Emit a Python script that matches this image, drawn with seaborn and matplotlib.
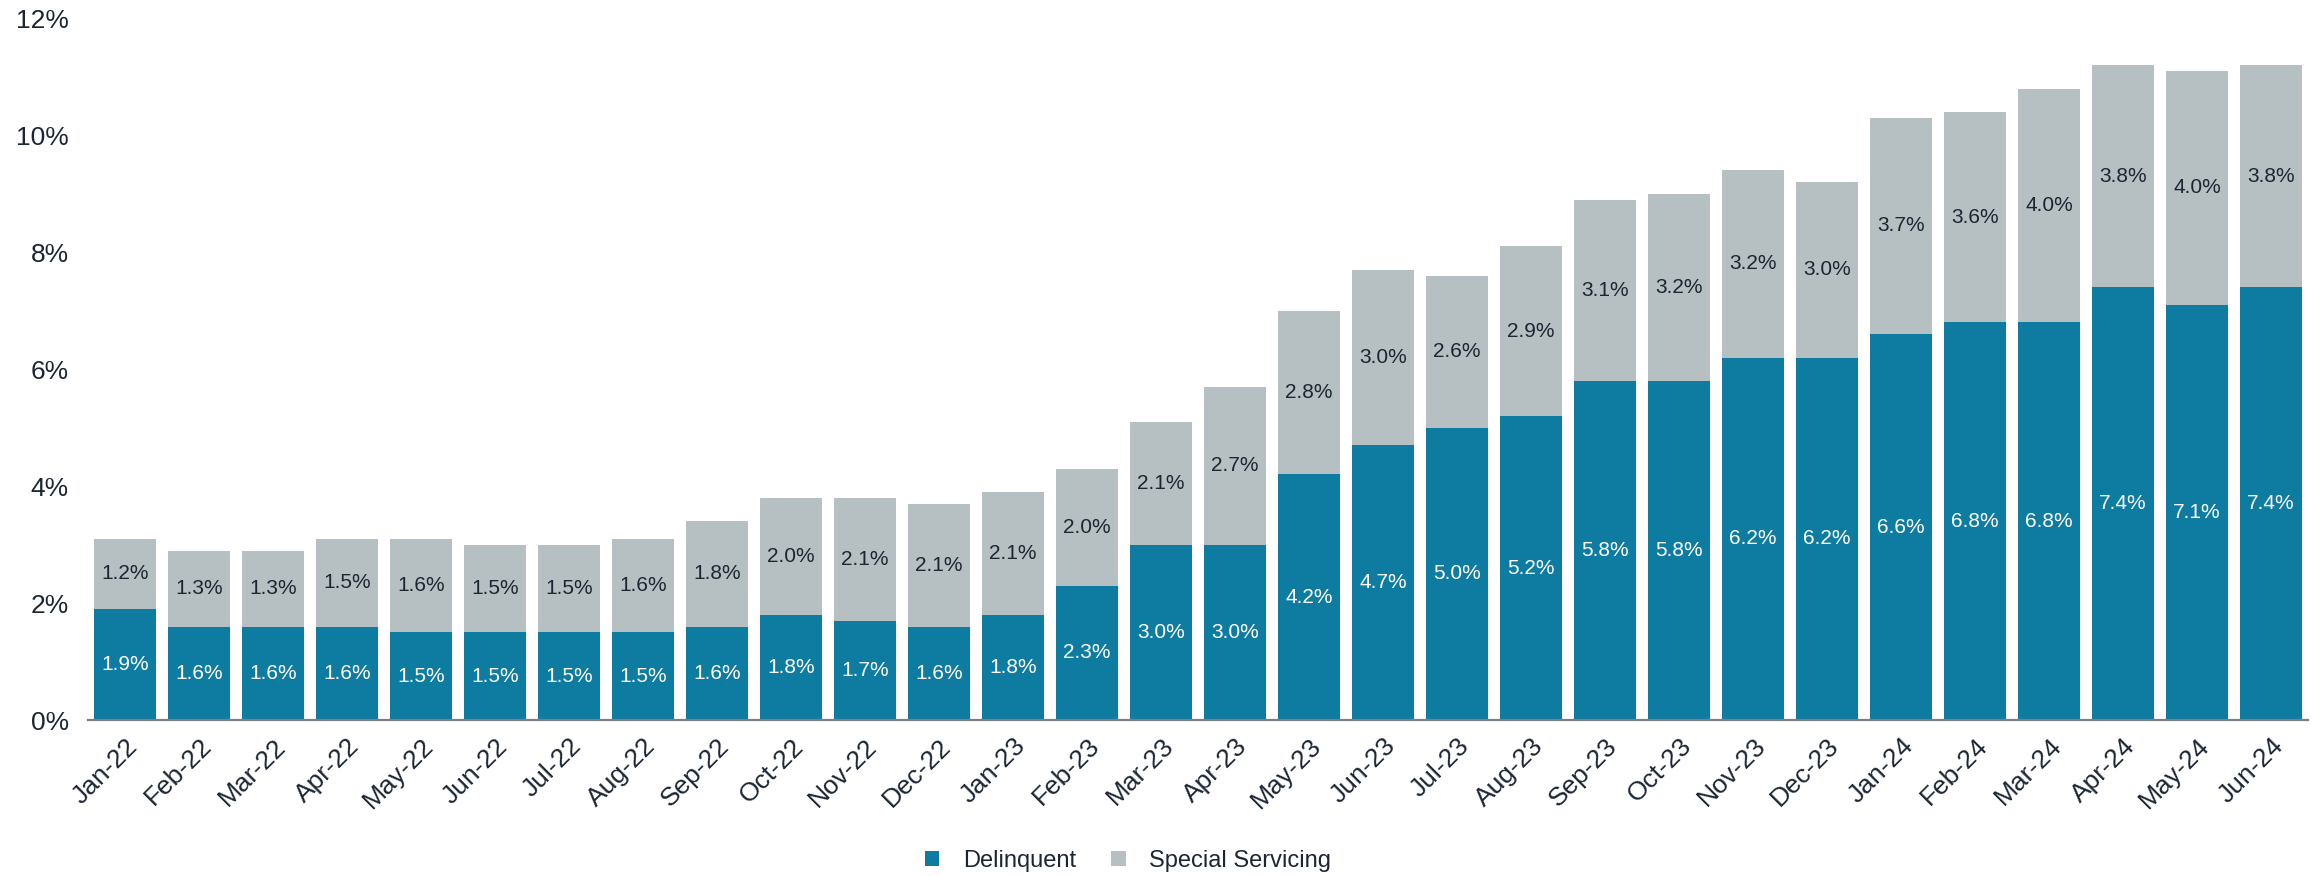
import matplotlib
matplotlib.use("Agg")
import matplotlib.pyplot as plt
from matplotlib.patches import Patch
import seaborn as sns
import pandas as pd

months = ["Jan-22", "Feb-22", "Mar-22", "Apr-22", "May-22", "Jun-22", "Jul-22", "Aug-22",
          "Sep-22", "Oct-22", "Nov-22", "Dec-22", "Jan-23", "Feb-23", "Mar-23", "Apr-23",
          "May-23", "Jun-23", "Jul-23", "Aug-23", "Sep-23", "Oct-23", "Nov-23", "Dec-23",
          "Jan-24", "Feb-24", "Mar-24", "Apr-24", "May-24", "Jun-24"]
delinquent = [1.9, 1.6, 1.6, 1.6, 1.5, 1.5, 1.5, 1.5, 1.6, 1.8, 1.7, 1.6, 1.8, 2.3, 3.0, 3.0,
              4.2, 4.7, 5.0, 5.2, 5.8, 5.8, 6.2, 6.2, 6.6, 6.8, 6.8, 7.4, 7.1, 7.4]
special_servicing = [1.2, 1.3, 1.3, 1.5, 1.6, 1.5, 1.5, 1.6, 1.8, 2.0, 2.1, 2.1, 2.1, 2.0, 2.1, 2.7,
                     2.8, 3.0, 2.6, 2.9, 3.1, 3.2, 3.2, 3.0, 3.7, 3.6, 4.0, 3.8, 4.0, 3.8]
y_ticks = [0, 2, 4, 6, 8, 10, 12]

BLUE = "#0E7BA1"
GREY = "#B6BFC2"
TEXT = "#1C2633"

df = pd.DataFrame({"month": months, "delinquent": delinquent, "special": special_servicing})
df["total"] = df["delinquent"] + df["special"]

sns.set_theme(style="white")
plt.rcParams["font.family"] = ["Liberation Sans", "DejaVu Sans"]

fig = plt.figure(figsize=(23.18, 8.76), dpi=100)
ax = fig.add_axes([0.038, 0.178, 0.9577, 0.801])

# Stacked look: full total in grey, delinquent share drawn over it in blue
sns.barplot(data=df, x="month", y="total", color=GREY, width=0.83, linewidth=0,
            saturation=1, ax=ax)
sns.barplot(data=df, x="month", y="delinquent", color=BLUE, width=0.83, linewidth=0,
            saturation=1, ax=ax)

for i, (d, s) in enumerate(zip(delinquent, special_servicing)):
    ax.text(i, d / 2, f"{d:.1f}%", ha="center", va="center", color="white", fontsize=15)
    ax.text(i, d + s / 2, f"{s:.1f}%", ha="center", va="center", color=TEXT, fontsize=15)

ax.set_xlim(-0.5, len(months) - 0.5)
ax.set_ylim(0, 12)
ax.set_yticks(y_ticks)
ax.set_yticklabels([f"{t}%" for t in y_ticks], fontsize=19, color=TEXT)
ax.set_xticks(range(len(months)))
ax.set_xticklabels(months, rotation=45, ha="right", rotation_mode="anchor",
                   fontsize=19, color=TEXT)
ax.tick_params(axis="both", length=0)
ax.tick_params(axis="x", pad=10)
ax.tick_params(axis="y", pad=14)
ax.set_xlabel("")
ax.set_ylabel("")

for side in ["top", "right", "left"]:
    ax.spines[side].set_visible(False)
ax.spines["bottom"].set_color("#7A7F84")
ax.spines["bottom"].set_linewidth(1.6)

handles = [Patch(facecolor=BLUE, edgecolor="none", label="Delinquent"),
           Patch(facecolor=GREY, edgecolor="none", label="Special Servicing")]
leg = fig.legend(handles=handles, loc="center", bbox_to_anchor=(0.4867, 0.017),
                 ncol=2, frameon=False, fontsize=17, handlelength=0.6, handleheight=0.6,
                 handletextpad=1.0, columnspacing=1.5)
for t in leg.get_texts():
    t.set_color(TEXT)

fig.savefig("out.png", dpi=100)
